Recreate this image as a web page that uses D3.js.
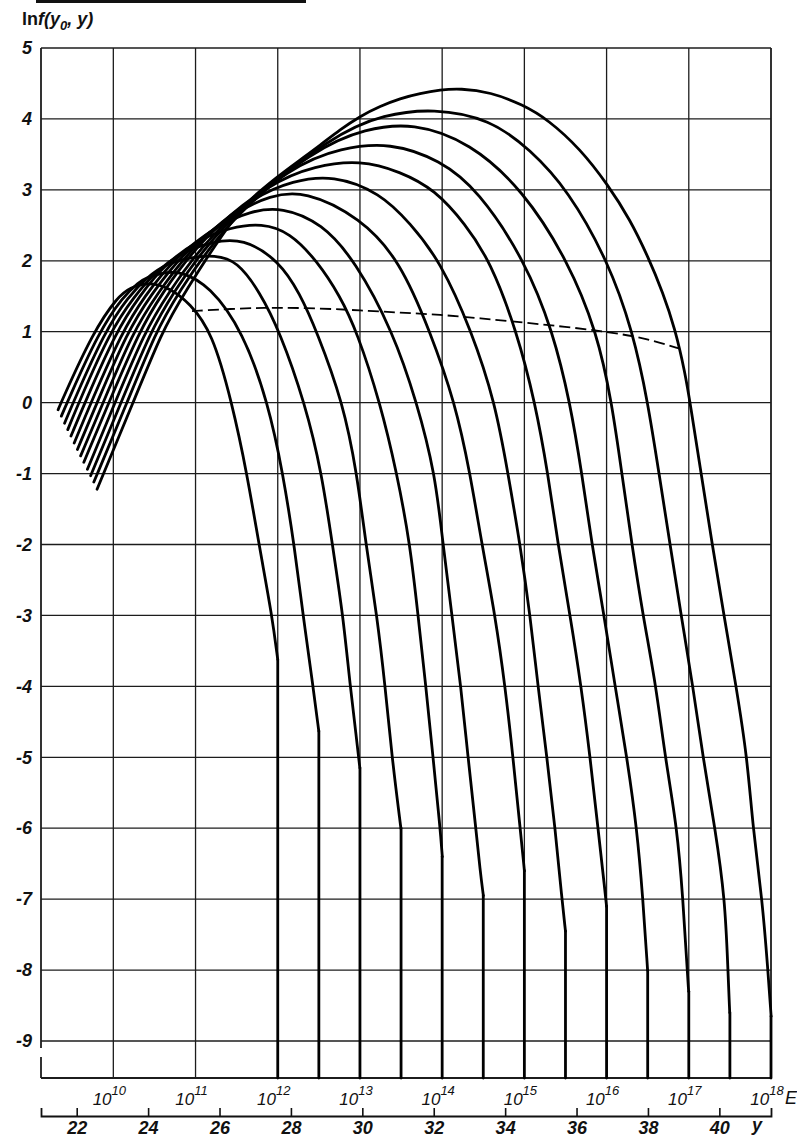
<!DOCTYPE html>
<html>
<head>
<meta charset="utf-8">
<script src="https://cdnjs.cloudflare.com/ajax/libs/d3/7.8.5/d3.min.js"></script>
<style>
  body { margin: 0; background: #fff; }
  svg { display: block; }
  text { font-family: "Liberation Sans", "DejaVu Sans", sans-serif; fill: #111; }
</style>
</head>
<body>
<svg></svg>
<script>
// Chart data
// ------------------------------------------
// ln f ticks (left) and y = ln E ticks (bottom)
var lnfTicks = [5, 4, 3, 2, 1, 0, -1, -2, -3, -4, -5, -6, -7, -8, -9];
var yTicks = [22, 24, 26, 28, 30, 32, 34, 36, 38, 40];
// decades of E on the E axis
var ePowers = [10, 11, 12, 13, 14, 15, 16, 17, 18];
// E0 of every curve (as power of ten)
var curveExp = [12, 12.5, 13, 13.5, 14, 14.5, 15, 15.5, 16, 16.5, 17, 17.5, 18];

// each curve: [y, ln f] points
var curveE12 = [[21.48,-0.10],[21.56,0],[22.46,1.0],[23.16,1.5],[23.49,1.62],[24.00,1.70],[24.61,1.62],[25.17,1.40],[25.79,1.0],[26.35,0],[26.77,-1],[27.13,-2.07],[27.47,-3],[27.63,-3.62]];
var curveE12_5 = [[21.57,-0.19],[21.73,0],[22.62,1.0],[23.30,1.5],[23.75,1.70],[23.91,1.75],[24.39,1.83],[24.89,1.86],[25.73,1.65],[26.66,1.0],[27.36,0],[27.78,-1],[28.11,-2.07],[28.34,-3],[28.62,-4],[28.78,-4.63]];
var curveE13 = [[21.66,-0.29],[21.90,0],[22.78,1.0],[23.45,1.5],[24.00,1.78],[24.47,1.95],[25.17,2.05],[25.87,2.08],[26.49,2.0],[27.13,1.56],[27.69,1.0],[28.39,0],[28.87,-1],[29.18,-2.07],[29.46,-3],[29.66,-4],[29.83,-4.7],[29.93,-5.15]];
var curveE13_5 = [[21.75,-0.38],[22.06,0],[22.93,1.0],[23.61,1.5],[24.25,1.87],[24.95,2.12],[25.79,2.27],[26.66,2.32],[27.67,2.0],[28.25,1.54],[28.73,1.0],[29.46,0],[29.85,-1],[30.10,-2],[30.41,-3],[30.64,-4],[30.83,-5],[31.08,-6.0]];
var curveE14 = [[21.84,-0.47],[22.23,0],[23.10,1.0],[23.75,1.5],[24.50,1.97],[25.43,2.3],[26.29,2.47],[27.19,2.53],[27.97,2.40],[28.73,2.0],[29.38,1.5],[29.85,1.0],[30.50,0],[30.97,-1],[31.34,-2],[31.56,-3],[31.78,-4],[31.98,-5],[32.18,-6],[32.24,-6.4]];
var curveE14_5 = [[21.93,-0.57],[22.40,0],[23.27,1.0],[23.90,1.5],[24.75,2.05],[25.96,2.5],[26.85,2.70],[27.75,2.76],[28.87,2.53],[29.80,2.0],[30.86,1.0],[31.53,0],[32.04,-1],[32.26,-2],[32.51,-3],[32.76,-4],[32.96,-5],[33.18,-6],[33.30,-6.6],[33.39,-6.95]];
var curveE15 = [[22.02,-0.66],[22.57,0],[23.42,1.0],[24.05,1.5],[25.01,2.14],[26.46,2.69],[27.41,2.92],[28.39,2.99],[29.94,2.61],[31.06,2.0],[31.90,1.0],[32.60,0],[33.02,-1],[33.35,-2],[33.72,-3],[34.00,-4],[34.22,-5],[34.42,-6],[34.54,-6.6]];
var curveE15_5 = [[22.11,-0.75],[22.74,0],[23.58,1.0],[24.21,1.5],[25.26,2.23],[26.94,2.90],[28.06,3.13],[29.18,3.21],[30.50,2.96],[31.34,2.53],[32.18,2.0],[33.07,1.0],[33.72,0],[34.08,-1],[34.42,-2],[34.70,-3],[34.92,-4],[35.17,-5],[35.40,-6],[35.59,-7],[35.69,-7.45]];
var curveE16 = [[22.20,-0.84],[22.90,0],[23.75,1.0],[24.33,1.5],[25.51,2.33],[27.41,3.10],[28.68,3.34],[29.94,3.42],[31.06,3.26],[32.04,3.0],[32.88,2.52],[33.58,2.0],[34.33,1.0],[34.84,0],[35.20,-1],[35.48,-2],[35.82,-3],[36.13,-4],[36.38,-5],[36.60,-6],[36.80,-6.9],[36.84,-7.1]];
var curveE16_5 = [[22.30,-0.94],[23.07,0],[23.91,1.0],[24.50,1.5],[25.76,2.41],[28.06,3.35],[29.40,3.59],[30.78,3.67],[32.18,3.42],[33.24,3.0],[34.56,2.0],[35.34,1.0],[35.82,0],[36.15,-1],[36.43,-2],[36.77,-3],[37.08,-4],[37.41,-5],[37.69,-6],[37.86,-7],[37.99,-8.0]];
var curveE17 = [[22.39,-1.03],[23.24,0],[24.07,1.0],[24.64,1.5],[26.01,2.52],[28.73,3.60],[30.08,3.86],[31.42,3.95],[33.02,3.67],[34.50,3.0],[35.76,2.0],[36.57,1.0],[36.99,0],[37.27,-1],[37.55,-2],[37.86,-3],[38.23,-4],[38.48,-5],[38.82,-6],[38.98,-7],[39.10,-8],[39.14,-8.3]];
var curveE17_5 = [[22.48,-1.12],[23.41,0],[24.22,1.0],[24.78,1.5],[26.27,2.62],[29.24,3.80],[30.61,4.06],[31.98,4.15],[33.58,4.0],[34.70,3.57],[35.76,3.0],[36.88,2.0],[37.58,1.0],[38.00,0],[38.31,-1],[38.62,-2],[38.93,-3],[39.26,-4],[39.54,-5],[39.88,-6],[40.16,-7],[40.24,-8],[40.29,-8.6]];
var curveE18 = [[22.57,-1.22],[23.58,0],[24.39,1.0],[24.95,1.5],[26.52,2.72],[27.13,2.98],[27.58,3.17],[28.25,3.42],[28.82,3.63],[29.38,3.85],[29.94,4.04],[30.50,4.18],[31.06,4.29],[31.62,4.36],[32.18,4.41],[32.74,4.43],[33.58,4.38],[34.50,4.2],[35.20,3.99],[36.10,3.58],[36.88,3.07],[37.50,2.58],[38.00,2.06],[38.42,1.55],[38.76,1.04],[39.04,0.42],[39.18,0],[39.49,-1],[39.80,-2],[40.13,-3],[40.47,-4],[40.78,-5],[40.94,-6],[41.20,-7],[41.36,-8],[41.45,-8.65]];

var curves = [curveE12, curveE12_5, curveE13, curveE13_5, curveE14, curveE14_5,
  curveE15, curveE15_5, curveE16, curveE16_5, curveE17, curveE17_5, curveE18];

// dashed line
var dashY = [25.23, 26.57, 27.61, 28.82, 29.94, 31.06, 32.18, 33.30, 34.50, 35.68, 36.85, 37.92, 38.96];
var dashLnf = [1.29, 1.33, 1.34, 1.33, 1.30, 1.27, 1.24, 1.19, 1.13, 1.07, 1.00, 0.91, 0.75];

// Step 1: Set up chart
//------------------------------------------
var svgWidth = 797;
var svgHeight = 1139;
var boxBottom = 1078;   // bottom of the E strip
var axisY = 1116;       // y axis line

var x = d3.scaleLinear().domain([21, 18 * Math.LN10]).range([41, 771]);
var yScale = d3.scaleLinear().domain([5, -9]).range([48, 1041]);

var svg = d3.select("svg")
    .attr("width", svgWidth)
    .attr("height", svgHeight);

svg.append("rect").attr("width", svgWidth).attr("height", svgHeight).attr("fill", "#fff");

// stray rule at the top edge of the scan
svg.append("rect").attr("x", 36).attr("y", 0).attr("width", 270).attr("height", 3).attr("fill", "#111");

// Step 2: grid
//------------------------------------------
var grid = svg.append("g").attr("stroke", "#1c1c1c").attr("stroke-width", 1.3);

grid.selectAll(".hline")
    .data(lnfTicks)
    .enter()
    .append("line")
    .attr("x1", x.range()[0])
    .attr("x2", x.range()[1])
    .attr("y1", d => yScale(d))
    .attr("y2", d => yScale(d));

grid.selectAll(".vline")
    .data(ePowers)
    .enter()
    .append("line")
    .attr("x1", d => x(d * Math.LN10))
    .attr("x2", d => x(d * Math.LN10))
    .attr("y1", yScale(5))
    .attr("y2", boxBottom)
    .attr("stroke-width", d => d == 18 ? 1.8 : 1.3);

// frame: left edge (with small break) and bottom of E strip
grid.append("line").attr("x1", 41).attr("x2", 41).attr("y1", yScale(5)).attr("y2", 1048).attr("stroke-width", 1.8);
grid.append("line").attr("x1", 41).attr("x2", 41).attr("y1", 1057).attr("y2", boxBottom).attr("stroke-width", 1.8);
grid.append("line").attr("x1", 41).attr("x2", 771).attr("y1", boxBottom).attr("y2", boxBottom).attr("stroke-width", 1.8);

// Step 3: curves
//------------------------------------------
var line = d3.line()
    .x(d => x(d[0]))
    .y(d => yScale(d[1]))
    .curve(d3.curveBasis);

var curveG = svg.append("g")
    .attr("fill", "none")
    .attr("stroke", "#000")
    .attr("stroke-width", 2.8)
    .attr("stroke-linecap", "round")
    .attr("stroke-linejoin", "round");

curveG.selectAll("path")
    .data(curves)
    .enter()
    .append("path")
    .attr("d", line);

// vertical tails down to the E strip
curveG.selectAll("line")
    .data(curves)
    .enter()
    .append("line")
    .attr("x1", (d, i) => x(curveExp[i] * Math.LN10))
    .attr("x2", (d, i) => x(curveExp[i] * Math.LN10))
    .attr("y1", d => yScale(d[d.length - 1][1]))
    .attr("y2", boxBottom);

// dashed line
var dashData = dashY.map((v, i) => [v, dashLnf[i]]);
svg.append("path")
    .datum(dashData)
    .attr("d", line)
    .attr("fill", "none")
    .attr("stroke", "#000")
    .attr("stroke-width", 1.8)
    .attr("stroke-dasharray", "11,5");

// Step 4: axes and labels
//------------------------------------------
var leftAxis = d3.axisLeft(yScale)
    .tickValues(lnfTicks)
    .tickSize(0)
    .tickPadding(9)
    .tickFormat(d => d < 0 ? "-" + Math.abs(d) : String(d));

var gy = svg.append("g").attr("transform", "translate(41,0)").call(leftAxis);
gy.select(".domain").remove();
gy.selectAll("text")
    .attr("font-size", 18)
    .attr("font-style", "italic")
    .attr("font-weight", "bold")
    .attr("font-family", "Liberation Sans, DejaVu Sans, sans-serif")
    .attr("fill", "#111");

var bottomAxis = d3.axisBottom(x)
    .tickValues(yTicks)
    .tickSizeInner(-8)
    .tickSizeOuter(-8)
    .tickPadding(5)
    .tickFormat(d3.format("d"));

var gx = svg.append("g").attr("transform", `translate(0,${axisY})`).call(bottomAxis);
gx.select(".domain").attr("stroke", "#111").attr("stroke-width", 1.8);
gx.selectAll(".tick line").attr("stroke", "#111").attr("stroke-width", 1.6);
gx.selectAll("text")
    .attr("font-size", 18)
    .attr("font-style", "italic")
    .attr("font-weight", "bold")
    .attr("font-family", "Liberation Sans, DejaVu Sans, sans-serif")
    .attr("fill", "#111");

// E decade labels
var eLab = svg.append("g").selectAll("text")
    .data(ePowers)
    .enter()
    .append("text")
    .attr("x", d => x(d * Math.LN10) - 4)
    .attr("y", 1105)
    .attr("text-anchor", "middle")
    .attr("font-size", 17)
    .attr("font-style", "italic");
eLab.append("tspan").text("10");
eLab.append("tspan").attr("dy", -10).attr("font-size", 13).text(d => d);

svg.append("text").attr("x", 785).attr("y", 1104).attr("font-size", 18).attr("font-style", "italic").text("E");
svg.append("text").attr("x", 752).attr("y", 1131).attr("font-size", 18).attr("font-style", "italic").attr("font-weight", "bold").text("y");

// axis title
var title = svg.append("text")
    .attr("x", 22)
    .attr("y", 25)
    .attr("font-size", 18)
    .attr("font-weight", "bold");
title.append("tspan").text("ln");
title.append("tspan").attr("font-style", "italic").text("f(y");
title.append("tspan").attr("font-style", "italic").attr("font-size", 13).attr("dy", 5).text("0");
title.append("tspan").attr("font-style", "italic").attr("dy", -5).text(", y)");
</script>
</body>
</html>
